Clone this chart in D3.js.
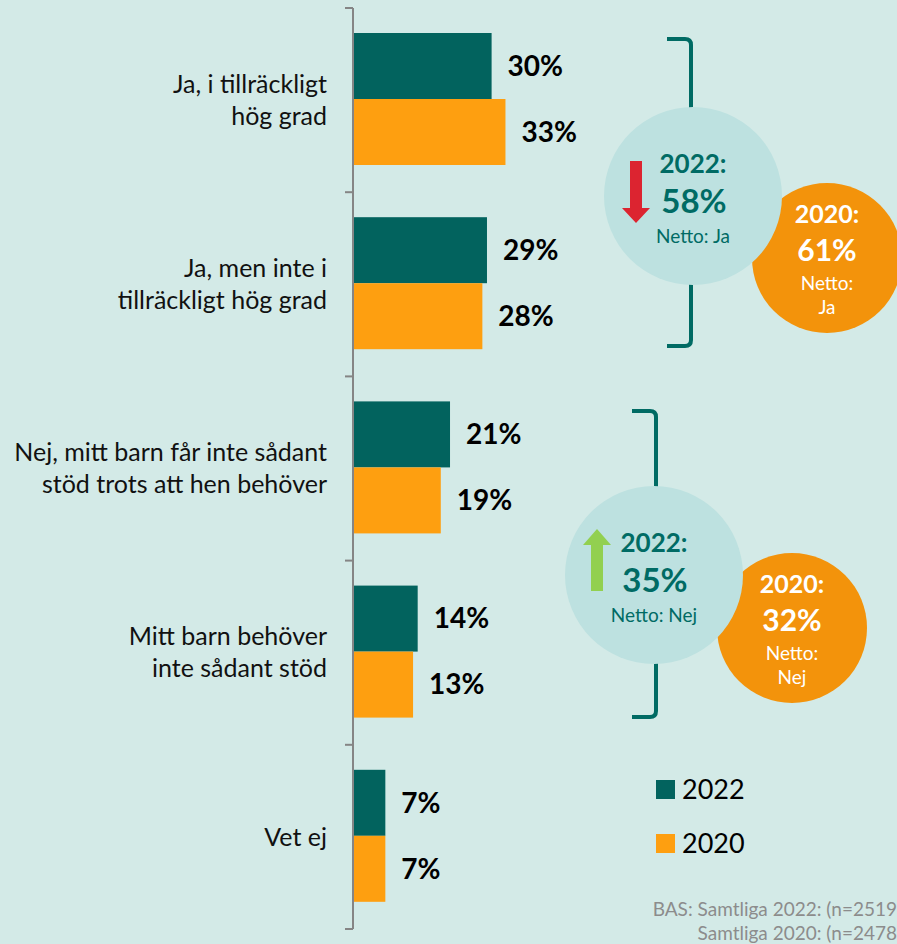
<!DOCTYPE html>
<html>
<head>
<meta charset="utf-8">
<script src="https://cdn.jsdelivr.net/npm/d3@7"></script>
<style>
  html, body { margin: 0; padding: 0; background: #d3eae7; }
  svg { display: block; font-family: Lato, "Open Sans", sans-serif; }
</style>
</head>
<body>
<div id="chart"></div>
<script>
// chart data
const categories = [
  ["Ja, i tillräckligt", "hög grad"],
  ["Ja, men inte i", "tillräckligt hög grad"],
  ["Nej, mitt barn får inte sådant", "stöd trots att hen behöver"],
  ["Mitt barn behöver", "inte sådant stöd"],
  ["Vet ej"]
];
const years = ["2022", "2020"];
const values2022 = [30, 29, 21, 14, 7];
const values2020 = [33, 28, 19, 13, 7];

// net summaries (2022 vs 2020)
const netLabels = ["Ja", "Nej"];
const net2022 = [58, 35];
const net2020 = [61, 32];

const width = 897, height = 944;
const teal = "#02635e", orange = "#fe9f10";

const svg = d3.select("#chart").append("svg")
  .attr("width", width)
  .attr("height", height);

svg.append("rect").attr("width", width).attr("height", height).attr("fill", "#d3eae7");

const keys = categories.map((d, i) => i);
const y = d3.scaleBand().domain(keys).range([8, 929]);
const ySeries = d3.scaleBand().domain(years).range([25, 157]);
const x = d3.scaleLinear().domain([0, 100]).range([353, 815]);

const rows = keys.map(i => ({i, cat: categories[i], v: {"2022": values2022[i], "2020": values2020[i]}}));

// axis line + ticks at band borders
const axis = svg.append("g");
axis.append("line")
  .attr("x1", x(0)).attr("x2", x(0))
  .attr("y1", y.range()[0]).attr("y2", y.range()[1])
  .attr("stroke", "#858585").attr("stroke-width", 2);
const tickYs = keys.map(k => y(k)).concat([y.range()[1]]);
axis.selectAll(".tick").data(tickYs).join("line")
  .attr("x1", x(0) - 8).attr("x2", x(0))
  .attr("y1", d => d).attr("y2", d => d)
  .attr("stroke", "#858585").attr("stroke-width", 2);

// bars
const groups = svg.selectAll(".row").data(rows).join("g")
  .attr("transform", d => `translate(0,${y(d.i)})`);

groups.selectAll("rect").data(d => years.map(yr => ({yr, v: d.v[yr]}))).join("rect")
  .attr("x", x(0) + 1)
  .attr("y", d => ySeries(d.yr))
  .attr("width", d => x(d.v) - x(0) - 1)
  .attr("height", ySeries.bandwidth())
  .attr("fill", d => d.yr === "2022" ? teal : orange);

groups.selectAll(".val").data(d => years.map(yr => ({yr, v: d.v[yr]}))).join("text")
  .attr("x", d => x(d.v) + 16)
  .attr("y", d => ySeries(d.yr) + ySeries.bandwidth() / 2)
  .attr("dy", "0.35em")
  .attr("font-size", 28)
  .attr("font-weight", "bold")
  .attr("fill", "#000")
  .text(d => d.v + "%");

// category labels
groups.each(function(d) {
  const g = d3.select(this);
  const n = d.cat.length;
  d.cat.forEach((line, j) => {
    g.append("text")
      .attr("x", 327)
      .attr("y", y.bandwidth() / 2 + (j - (n - 1) / 2) * 32)
      .attr("dy", "0.35em")
      .attr("text-anchor", "end")
      .attr("font-size", 25)
      .attr("fill", "#111")
      .text(line);
  });
});

// brackets + circles
const groupsNet = [
  {label: netLabels[0], v22: net2022[0], v20: net2020[0], bx: 691, top: 39, bottom: 346, cx: 693, cy: 196, ox: 827, oy: 258, up: false},
  {label: netLabels[1], v22: net2022[1], v20: net2020[1], bx: 656, top: 411, bottom: 717, cx: 654, cy: 575, ox: 792, oy: 628, up: true}
];

groupsNet.forEach(n => {
  const g = svg.append("g");
  g.append("path")
    .attr("d", `M${n.bx - 24},${n.top} H${n.bx - 6} Q${n.bx},${n.top} ${n.bx},${n.top + 6} V${n.bottom - 6} Q${n.bx},${n.bottom} ${n.bx - 6},${n.bottom} H${n.bx - 24}`)
    .attr("fill", "none")
    .attr("stroke", "#006b64")
    .attr("stroke-width", 4);

  g.append("circle").attr("cx", n.ox).attr("cy", n.oy).attr("r", 75).attr("fill", "#f3930b");
  g.append("circle").attr("cx", n.cx).attr("cy", n.cy).attr("r", 89).attr("fill", "#bde1e0");

  g.append("text").attr("x", n.cx).attr("y", n.cy - 32).attr("dy", "0.35em")
    .attr("text-anchor", "middle").attr("font-size", 26).attr("font-weight", "bold")
    .attr("fill", "#006b64").text("2022:");
  g.append("text").attr("x", n.cx + 1).attr("y", n.cy + 5).attr("dy", "0.35em")
    .attr("text-anchor", "middle").attr("font-size", 33).attr("font-weight", "bold")
    .attr("fill", "#006b64").text(n.v22 + "%");
  g.append("text").attr("x", n.cx).attr("y", n.cy + 40).attr("dy", "0.35em")
    .attr("text-anchor", "middle").attr("font-size", 19)
    .attr("fill", "#006b64").text("Netto: " + n.label);

  g.append("text").attr("x", n.ox).attr("y", n.oy - 44).attr("dy", "0.35em")
    .attr("text-anchor", "middle").attr("font-size", 25).attr("font-weight", "bold")
    .attr("fill", "#fff").text("2020:");
  g.append("text").attr("x", n.ox).attr("y", n.oy - 8).attr("dy", "0.35em")
    .attr("text-anchor", "middle").attr("font-size", 30).attr("font-weight", "bold")
    .attr("fill", "#fff").text(n.v20 + "%");
  g.append("text").attr("x", n.ox).attr("y", n.oy + 25).attr("dy", "0.35em")
    .attr("text-anchor", "middle").attr("font-size", 19)
    .attr("fill", "#fff").text("Netto:");
  g.append("text").attr("x", n.ox).attr("y", n.oy + 49).attr("dy", "0.35em")
    .attr("text-anchor", "middle").attr("font-size", 19)
    .attr("fill", "#fff").text(n.label);

  // trend arrow
  const ax = n.cx - 57;
  if (n.up) {
    const t = n.cy - 46, b = n.cy + 16;
    g.append("path")
      .attr("d", `M${ax},${t} L${ax + 14},${t + 16} H${ax + 6} V${b} H${ax - 6} V${t + 16} H${ax - 14} Z`)
      .attr("fill", "#92d050");
  } else {
    const t = n.cy - 35, b = n.cy + 27;
    g.append("path")
      .attr("d", `M${ax - 6},${t} H${ax + 6} V${b - 15} H${ax + 14} L${ax},${b} L${ax - 14},${b - 15} H${ax - 6} Z`)
      .attr("fill", "#dc2430");
  }
});

// legend
const legend = svg.append("g");
years.forEach((yr, i) => {
  legend.append("rect")
    .attr("x", 656).attr("y", 780 + i * 54)
    .attr("width", 19).attr("height", 19)
    .attr("fill", yr === "2022" ? teal : orange);
  legend.append("text")
    .attr("x", 682).attr("y", 799 + i * 54)
    .attr("font-size", 27).attr("fill", "#000")
    .text(yr);
});

// footnote
svg.append("text").attr("x", 897).attr("y", 916).attr("text-anchor", "end")
  .attr("font-size", 19).attr("fill", "#8c8c8c").text("BAS: Samtliga 2022: (n=2519");
svg.append("text").attr("x", 897).attr("y", 940).attr("text-anchor", "end")
  .attr("font-size", 19).attr("fill", "#8c8c8c").text("Samtliga 2020: (n=2478");
</script>
</body>
</html>
